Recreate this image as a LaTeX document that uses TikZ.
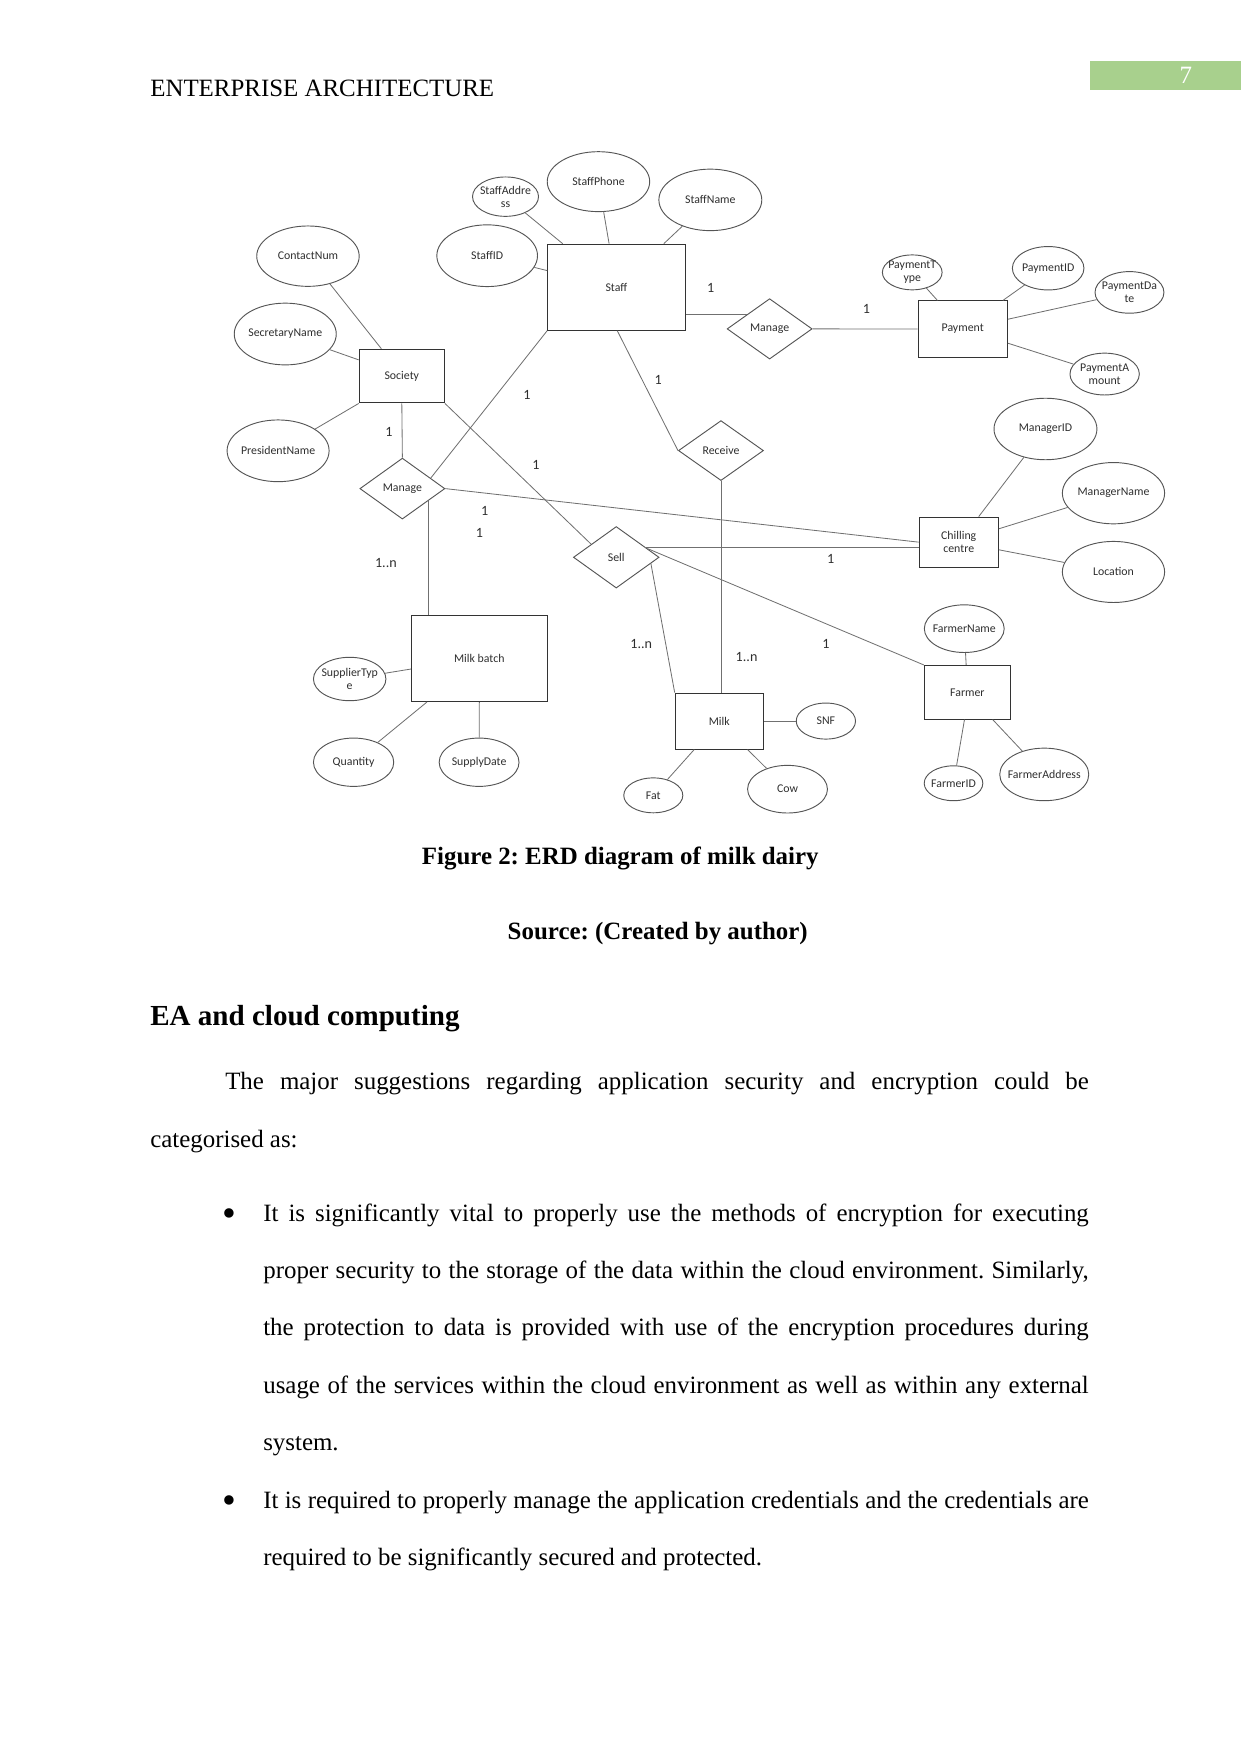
\documentclass[tikz,border=0pt]{standalone}
\usepackage{fontspec}
\setmainfont{Liberation Serif}
\newfontfamily\erdfont{Carlito}
\usepackage{tikz}
\usetikzlibrary{positioning,calc,shapes.geometric}
\definecolor{cLine}{HTML}{707070}
\definecolor{cEdge}{HTML}{555555}
\definecolor{cBox}{HTML}{333333}
\definecolor{cInk}{HTML}{2E2E2E}
\definecolor{cPage}{HTML}{A8D08D}
\newcommand{\attrsize}{\erdfont\fontsize{5.7}{6.3}\selectfont}
\newcommand{\cardsize}{\erdfont\fontsize{6.8}{8}\selectfont}
\frenchspacing
\tikzset{
  ent/.style 2 args ={rectangle,draw=cBox,line width=0.5pt,align=center,
                      minimum width={#1*0.18941mm},minimum height={#2*0.18941mm},
                      inner sep=0pt,font=\attrsize,text=cInk},
  attr/.style 2 args={ellipse,draw=cEdge,line width=0.45pt,align=center,
                      minimum width={#1*0.18941mm},minimum height={#2*0.18941mm},
                      inner xsep=-4pt,inner ysep=-0.5pt,font=\attrsize,text=cInk},
  rel/.style 2 args ={diamond,draw=cEdge,line width=0.45pt,align=center,
                      minimum width={#1*0.18941mm},minimum height={#2*0.18941mm},
                      inner sep=0pt,font=\attrsize,text=cInk},
  ln/.style   ={draw=cLine,line width=0.4pt},
  card/.style ={font=\cardsize,text=cInk,inner sep=0pt},
  body/.style ={anchor=base west,inner sep=0pt,font=\fontsize{12}{14}\selectfont},
  bul/.style  ={inner sep=0pt,font=\fontsize{19}{20}\selectfont},
}

\begin{document}
\begin{tikzpicture}[x=0.18941mm,y=-0.18941mm]
\useasboundingbox (0,0) rectangle (1109,1568);

% page head
\node[fill=cPage,anchor=north west,inner sep=0pt,
      minimum width=135*0.18941mm,minimum height=25.6*0.18941mm] (pagebox) at (974,54.2) {};
\node[anchor=base,inner sep=0pt,text=white,font=\fontsize{12}{14}\selectfont] (pagenum) at (1060,74.5) {7};
\node[body] (header) at (134,86.4) {ENTERPRISE ARCHITECTURE};

% entities
\node[ent={122.9}{76.9}] (staff)   at (551.05,256.75) {Staff};
\node[ent={76.2}{48}]    (society) at (359.2,336.2)   {Society};
\node[ent={79.8}{50.3}]  (payment) at (860.6,294.15)  {Payment};
\node[ent={70.9}{44.7}]  (chill)   at (857.05,484.65) {Chilling\\centre};
\node[ent={121.6}{77.2}] (mbatch)  at (428.5,588.5)   {Milk batch};
\node[ent={78.8}{50}]    (milk)    at (643,644.6)     {Milk};
\node[ent={77}{47.9}]    (farmer)  at (864.8,618.85)  {Farmer};

% relationships
\node[rel={76}{54}]     (mngR)    at (688,294)       {Manage};
\node[rel={76}{54.5}]   (mngL)    at (359.7,436.8)   {Manage};
\node[rel={76}{53.6}]   (receive) at (644.5,402.8)   {Receive};
\node[rel={76.6}{55}]   (sell)    at (550.9,498.2)   {Sell};

% attributes
\node[attr={59}{35.2}]   (saddr)    at (451.9,175.8)  {StaffAddre\\ss};
\node[attr={91.6}{53.6}] (sphone)   at (535,162.4)    {StaffPhone};
\node[attr={92}{55}]     (sname)    at (635,178.7)    {StaffName};
\node[attr={90}{55.2}]   (sid)      at (435.5,228.6)  {StaffID};
\node[attr={91.6}{54}]   (contact)  at (275.3,229)    {ContactNum};
\node[attr={91.2}{55.2}] (secname)  at (255,298.6)    {SecretaryName};
\node[attr={91.2}{55.2}] (presname) at (248.6,403)    {PresidentName};
\node[attr={53.4}{31.2}] (ptype)    at (815.5,243.5)  {PaymentT\\ype};
\node[attr={64}{38.8}]   (pid)      at (937,239.8)    {PaymentID};
\node[attr={61.6}{37.2}] (pdate)    at (1009.7,261.4) {PaymentDa\\te};
\node[attr={62}{37.4}]   (pamount)  at (987.5,334.4)  {PaymentA\\mount};
\node[attr={92}{55}]     (mgrid)    at (934.6,383.5)  {ManagerID};
\node[attr={91.4}{54.8}] (mgrname)  at (995.4,440.9)  {ManagerName};
\node[attr={91.4}{54.6}] (location) at (995.4,511.3)  {Location};
\node[attr={64.8}{38.8}] (suptype)  at (312.6,607)    {SupplierTyp\\e};
\node[attr={71.8}{43.2}] (qty)      at (316.1,681.4)  {Quantity};
\node[attr={71.4}{43.2}] (sdate)    at (428.3,681.4)  {SupplyDate};
\node[attr={52.8}{31.2}] (fat)      at (584,711)      {Fat};
\node[attr={71.4}{42.6}] (cow)      at (704,705.5)    {Cow};
\node[attr={53}{32.2}]   (snf)      at (738.3,644.6)  {SNF};
\node[attr={71.4}{42.6}] (fname)    at (862,562)      {FarmerName};
\node[attr={52.4}{31.2}] (fid)      at (852.4,700.2)  {FarmerID};
\node[attr={79.6}{47}]   (faddr)    at (933.5,692.3)  {FarmerAddress};

% attribute links
\draw[ln] (saddr)    -- (503,0 |- staff.north);
\draw[ln] (sphone)   -- (544.5,0 |- staff.north);
\draw[ln] (sname)    -- (593.4,0 |- staff.north);
\draw[ln] (sid)      -- (staff.west |- 0,241.9);
\draw[ln] (ptype)    -- (838,0 |- payment.north);
\draw[ln] (pid)      -- (896.6,0 |- payment.north);
\draw[ln] (pdate)    -- (payment.east |- 0,285.4);
\draw[ln] (pamount)  -- (payment.east |- 0,306.8);
\draw[ln] (mgrid)    -- (874.9,0 |- chill.north);
\draw[ln] (mgrname)  -- (chill.east |- 0,472.7);
\draw[ln] (location) -- (chill.east |- 0,491.5);
\draw[ln] (contact)  -- (340.9,0 |- society.north);
\draw[ln] (secname)  -- (society.west |- 0,321.7);
\draw[ln] (presname) -- (society.south west);
\draw[ln] (suptype)  -- (mbatch.west |- 0,598.1);
\draw[ln] (qty)      -- (381.7,0 |- mbatch.south);
\draw[ln] (mbatch.south) -- (sdate);
\draw[ln] (milk.east) -- (snf);
\draw[ln] (fat)      -- (620.6,0 |- milk.south);
\draw[ln] (cow)      -- (668.3,0 |- milk.south);
\draw[ln] (fname)    -- (863.7,0 |- farmer.north);
\draw[ln] (fid)      -- (862.2,0 |- farmer.south);
\draw[ln] (faddr)    -- (887.4,0 |- farmer.south);

% relationship links
\coordinate (mngRin) at ($(mngR.west)!0.48!(mngR.north)$);
\coordinate (mngLin) at ($(mngL.north)!0.66!(mngL.east)$);
\coordinate (mngLout) at ($(mngL.east)!0.4!(mngL.south)$);
\coordinate (sellA) at ($(sell.west)!0.42!(sell.north)$);
\coordinate (sellB) at ($(sell.north)!0.67!(sell.east)$);
\coordinate (sellC) at ($(sell.north)!0.72!(sell.east)$);
\coordinate (sellD) at ($(sell.east)!0.2!(sell.south)$);
\draw[ln] (staff.east |- mngRin) -- (mngRin);
\draw[ln] (mngR.east) -- (payment.west);
\draw[ln] (society.south) -- (mngL.north);
\draw[ln] (society.south east) -- (sellA);
\draw[ln] (staff.south west) -- (mngLin);
\draw[ln] (551.8,0 |- staff.south) -- (receive.west);
\draw[ln] (receive.south) -- (receive.south |- milk.north);
\draw[ln] (mngL.east) -- (chill.west);
\draw[ln] (sellB) -- (chill.west |- sellB);
\draw[ln] (sellC) -- (farmer.north west);
\draw[ln] (sellD) -- (milk.north west);
\draw[ln] (mngLout) -- (mngLout |- mbatch.north);

% cardinalities
\foreach \cx/\cy/\ct [count=\i] in {635.4/257.1/1, 774.5/276.1/1, 588.5/339.6/1,
    471/353/1, 347.6/385.8/1, 479/415.5/1, 433.4/456.4/1, 428.6/476.6/1,
    345/503.4/1..n, 742.5/499.8/1, 573.2/575.8/1..n, 667.4/587.7/1..n, 738.3/575.8/1}
  \node[card] (card\i) at (\cx,\cy) {\ct};

% caption and text
\node[anchor=base,inner sep=0pt,font=\fontsize{12}{14}\selectfont\bfseries] (caption) at (554.5,773) {Figure 2: ERD diagram of milk dairy};
\node[anchor=base,inner sep=0pt,font=\fontsize{12}{14}\selectfont\bfseries] (source) at (588,840) {Source: (Created by author)};
\node[body,font=\fontsize{14}{16}\selectfont\bfseries] (heading) at (134,917) {EA and cloud computing};

\node[body] (p1) at (201,974.4) {\makebox[146.22mm][s]{The major suggestions regarding application security and encryption could be}};
\node[body] (p2) at (134,1025.7) {categorised as:};

\node[bul] (bul1) at (205,1088.5) {\textbullet};
\node[body] (b1a) at (235,1091.7) {\makebox[139.78mm][s]{It is significantly vital to properly use the methods of encryption for executing}};
\node[body] (b1b) at (235,1143)   {\makebox[139.78mm][s]{proper security to the storage of the data within the cloud environment. Similarly,}};
\node[body] (b1c) at (235,1194.3) {\makebox[139.78mm][s]{the protection to data is provided with use of the encryption procedures during}};
\node[body] (b1d) at (235,1245.6) {\makebox[139.78mm][s]{usage of the services within the cloud environment as well as within any external}};
\node[body] (b1e) at (235,1296.9) {system.};
\node[bul] (bul2) at (205,1345) {\textbullet};
\node[body] (b2a) at (235,1348.2) {\makebox[139.78mm][s]{It is required to properly manage the application credentials and the credentials are}};
\node[body] (b2b) at (235,1399.5) {required to be significantly secured and protected.};
\end{tikzpicture}
\end{document}
